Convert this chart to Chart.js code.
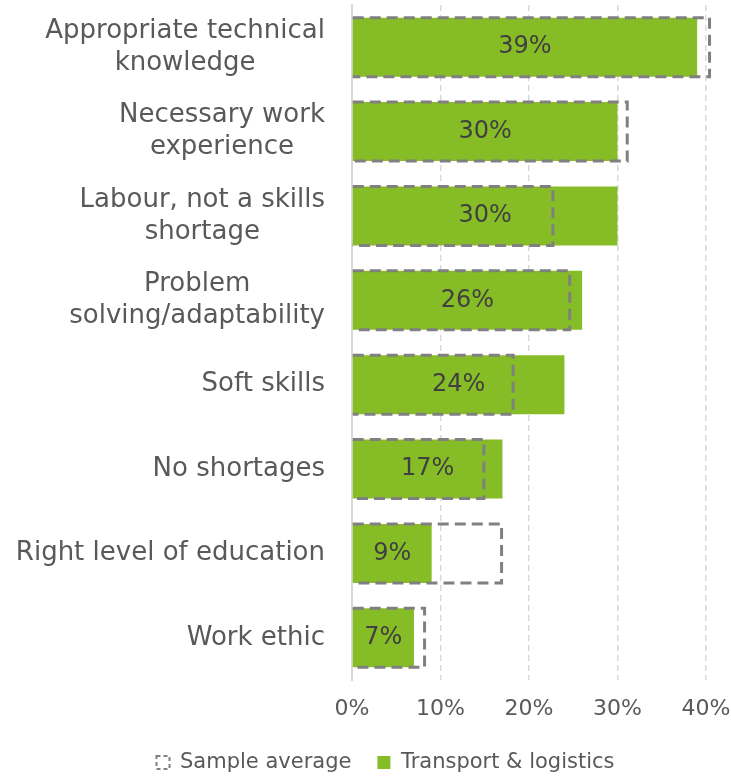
<!DOCTYPE html>
<html>
<head>
<meta charset="utf-8">
<title>Skills shortages</title>
<script src="https://cdn.jsdelivr.net/npm/chart.js@4.4.1/dist/chart.umd.min.js"></script>
<style>
  html, body { margin: 0; padding: 0; background: #fff; }
  #wrap { width: 731px; height: 776px; }
</style>
</head>
<body>
<div id="wrap"><canvas id="chart" width="731" height="776"></canvas></div>
<script>
const categories = [
  ["Appropriate technical", "knowledge"],
  ["Necessary work", "experience"],
  ["Labour, not a skills", "shortage"],
  ["Problem", "solving/adaptability"],
  "Soft skills",
  "No shortages",
  "Right level of education",
  "Work ethic",
];
const transportValues = [39, 30, 30, 26, 24, 17, 9, 7];
const sampleAverage = [40.4, 31.1, 22.7, 24.6, 18.2, 14.9, 16.9, 8.2];
const xTicks = [0, 10, 20, 30, 40];

const GREEN = "#86bc25";
const DASH_GREY = "#808080";
const TEXT_GREY = "#595959";
const FONT = "'DejaVu Sans', Verdana, sans-serif";

Chart.defaults.font.family = FONT;

// dashed outlines for the sample average, value labels, and centred category labels
const overlayPlugin = {
  id: "overlay",
  afterInit(chart) {
    // keep the legend strip short so it sits close to the bottom edge
    const fit = chart.legend.fit;
    chart.legend.fit = function () {
      fit.call(this);
      this.height = 50;
    };
  },
  afterDatasetsDraw(chart) {
    const ctx = chart.ctx;
    const avgMeta = chart.getDatasetMeta(0);
    const tlMeta = chart.getDatasetMeta(1);

    ctx.save();
    ctx.strokeStyle = DASH_GREY;
    ctx.lineWidth = 3;
    ctx.setLineDash([11, 6]);
    avgMeta.data.forEach((bar) => {
      const top = bar.y - bar.height / 2;
      const bottom = bar.y + bar.height / 2;
      ctx.beginPath();
      ctx.moveTo(bar.base, top);
      ctx.lineTo(bar.x, top);
      ctx.lineTo(bar.x, bottom);
      ctx.lineTo(bar.base, bottom);
      ctx.stroke();
    });
    ctx.restore();

    ctx.save();
    ctx.font = "24px " + FONT;
    ctx.fillStyle = "#404040";
    ctx.textAlign = "center";
    ctx.textBaseline = "middle";
    tlMeta.data.forEach((bar, i) => {
      ctx.fillText(transportValues[i] + "%", (bar.base + bar.x) / 2, bar.y);
    });
    ctx.restore();
  },
  afterDraw(chart) {
    const ctx = chart.ctx;
    const yScale = chart.scales.y;
    const right = chart.chartArea.left - 27;
    const lineH = 32;

    ctx.save();
    ctx.font = "26px " + FONT;
    ctx.fillStyle = TEXT_GREY;
    ctx.textAlign = "center";
    ctx.textBaseline = "middle";
    categories.forEach((label, i) => {
      const lines = Array.isArray(label) ? label : [label];
      const w = Math.max(...lines.map((t) => ctx.measureText(t).width));
      const cx = right - w / 2;
      const cy = yScale.getPixelForTick(i);
      lines.forEach((t, j) => {
        ctx.fillText(t, cx, cy + (j - (lines.length - 1) / 2) * lineH);
      });
    });
    ctx.restore();
  },
};

new Chart(document.getElementById("chart"), {
  type: "bar",
  data: {
    labels: categories,
    datasets: [
      {
        label: "Sample average",
        data: sampleAverage,
        backgroundColor: "rgba(0,0,0,0)",
        borderWidth: 0,
        grouped: false,
        categoryPercentage: 1,
        barPercentage: 0.7,
      },
      {
        label: "Transport & logistics",
        data: transportValues,
        backgroundColor: GREEN,
        borderWidth: 0,
        grouped: false,
        categoryPercentage: 1,
        barPercentage: 0.7,
      },
    ],
  },
  options: {
    indexAxis: "y",
    responsive: false,
    animation: false,
    layout: { padding: { left: 40, right: 0, top: 5, bottom: 0 } },
    scales: {
      x: {
        min: 0,
        max: 40,
        afterBuildTicks: (s) => { s.ticks = xTicks.map((v) => ({ value: v })); },
        afterFit: (s) => {
          s.height = 46;
          s.paddingLeft = 0;
          s.paddingRight = 25;
        },
        ticks: {
          callback: (v) => v + "%",
          color: TEXT_GREY,
          font: { size: 22 },
          padding: 16,
        },
        grid: { color: "#d9d9d9", lineWidth: 1.5, drawTicks: false },
        border: { display: false, dash: [6, 4] },
      },
      y: {
        afterFit: (s) => { s.width = 312; },
        ticks: { display: false },
        grid: { display: false, drawTicks: false },
        border: { display: true, color: "#d9d9d9", width: 2 },
      },
    },
    plugins: {
      tooltip: { enabled: false },
      legend: {
        position: "bottom",
        labels: {
          color: TEXT_GREY,
          font: { size: 21 },
          boxWidth: 13,
          boxHeight: 13,
          padding: 26,
          generateLabels: (chart) => {
            const items = Chart.defaults.plugins.legend.labels.generateLabels(chart);
            items[0].fillStyle = "rgba(0,0,0,0)";
            items[0].strokeStyle = DASH_GREY;
            items[0].lineWidth = 2;
            items[0].lineDash = [4, 3];
            items[1].fillStyle = GREEN;
            items[1].strokeStyle = GREEN;
            items[1].lineWidth = 0;
            return items;
          },
        },
      },
    },
  },
  plugins: [overlayPlugin],
});
</script>
</body>
</html>
